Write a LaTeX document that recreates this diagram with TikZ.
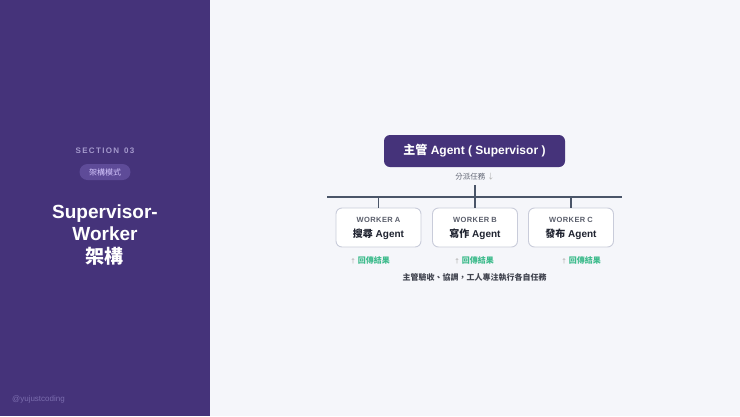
\documentclass[tikz,border=0pt]{standalone}
\usepackage{fontspec}
\setmainfont{Liberation Sans}
\newfontfamily\cjk{Noto Sans CJK TC}
\usetikzlibrary{positioning}
\definecolor{panel}{HTML}{45337A}
\definecolor{bgright}{HTML}{F5F6FA}
\definecolor{supfill}{HTML}{45337A}
\definecolor{linec}{HTML}{4A5568}
\definecolor{wborder}{HTML}{C9CCDA}
\definecolor{wlabel}{HTML}{5A5E6B}
\definecolor{wname}{HTML}{1F2330}
\definecolor{greenc}{HTML}{3DBB8C}
\definecolor{grayc}{HTML}{5F6472}
\definecolor{secc}{HTML}{A499CC}
\definecolor{pillfill}{HTML}{5E4B98}
\definecolor{pilltext}{HTML}{D6C8FF}
\definecolor{handle}{HTML}{7B6DAE}
\tikzset{
  supbox/.style={fill=supfill, rounded corners=6pt, minimum width=181pt, minimum height=32pt, text=white, font=\fontsize{12}{14}\selectfont\bfseries, inner sep=0pt},
  workerbox/.style={fill=white, draw=wborder, line width=0.9pt, rounded corners=6pt, minimum width=85pt, minimum height=39pt, inner sep=0pt, align=center},
  conn/.style={draw=linec, line width=1.2pt},
  retlabel/.style={text=greenc, font=\fontsize{8}{10}\selectfont\bfseries\cjk, inner sep=0pt},
}
\begin{document}
\begin{tikzpicture}[x=1pt,y=-1pt]
\useasboundingbox (0,0) rectangle (740,416);
\fill[bgright] (0,0) rectangle (740,416);
\fill[panel] (0,0) rectangle (210,416);
% left panel
\node[text=secc, font=\fontsize{8}{10}\selectfont\bfseries, inner sep=0pt] (sec) at (105,151) {S\,E\,C\,T\,I\,O\,N\,\ \,0\,3};
\node[fill=pillfill, rounded corners=8pt, minimum width=51pt, minimum height=16pt, inner sep=0pt, text=pilltext, font=\fontsize{8}{10}\selectfont\cjk] (pill) at (105,172) {架構模式};
\node[text=white, font=\fontsize{19}{22.5}\selectfont\bfseries, align=center, inner sep=0pt] (title) at (105,235) {Supervisor-\\Worker\\{\cjk 架構}};
\node[text=handle, font=\fontsize{8}{10}\selectfont, anchor=west, inner sep=0pt] (handle) at (12,399) {@yujustcoding};
% supervisor
\node[supbox] (sup) at (474.5,151) {{\cjk 主管} Agent ( Supervisor )};
\node[text=grayc, font=\fontsize{7.5}{9}\selectfont\cjk, inner sep=0pt] (dispatch) at (475,177) {分派任務 {\color{gray!60}↓}};
% bus
\coordinate (busL) at (327,197);
\coordinate (busR) at (622,197);
\coordinate (busM) at (475,197);
\coordinate (top) at (475,185);
\draw[conn] (busL) -- (busR);
\draw[conn] (top) -- (busM);
% workers
\node[workerbox] (wa) at (378.5,227.5) {};
\node[workerbox] (wb) at (475,227.5) {};
\node[workerbox] (wc) at (571,227.5) {};
\foreach \w/\l/\n in {wa/A/搜尋, wb/B/寫作, wc/C/發布}{
  \node[text=wlabel, font=\fontsize{7.5}{9}\selectfont\bfseries, inner sep=0pt] at ([yshift=7.5pt]\w.center) {W\kern0.4pt O\kern0.4pt R\kern0.4pt K\kern0.4pt E\kern0.4pt R\ \l};
  \node[text=wname, font=\fontsize{10}{12}\selectfont\bfseries, inner sep=0pt] at ([yshift=-6.5pt]\w.center) {{\cjk \n} Agent};
}
\coordinate (da) at (378.5,197);
\coordinate (dc) at (571,197);
\draw[conn] (da) -- (wa.north);
\draw[conn] (busM) -- (wb.north);
\draw[conn] (dc) -- (wc.north);
% return labels
\node[retlabel] (ra) at (370,260) {{\color{gray!50}\fontsize{6}{8}\selectfont ↑} 回傳結果};
\node[retlabel] (rb) at (474,260) {{\color{gray!50}\fontsize{6}{8}\selectfont ↑} 回傳結果};
\node[retlabel] (rc) at (581,260) {{\color{gray!50}\fontsize{6}{8}\selectfont ↑} 回傳結果};
\node[text=wname!85, font=\fontsize{8}{10}\selectfont\bfseries\cjk, inner sep=0pt] (note) at (474.5,277) {主管驗收、協調，工人專注執行各自任務};
\end{tikzpicture}
\end{document}
